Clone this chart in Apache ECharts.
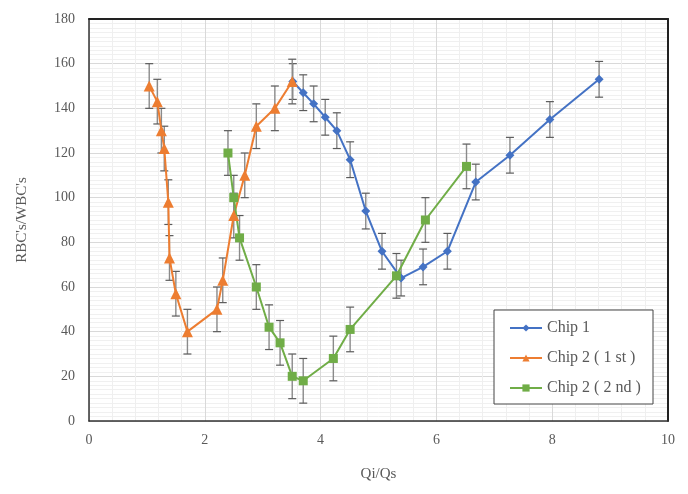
<!DOCTYPE html>
<html>
<head>
<meta charset="utf-8">
<script src="https://cdn.jsdelivr.net/npm/echarts@6/dist/echarts.min.js"></script>
<style>
html,body{margin:0;padding:0;background:#fff;}
#c{width:688px;height:494px;}
</style>
</head>
<body>
<div id="c"></div>
<script>
// Data
var chip1X = [3.52, 3.70, 3.88, 4.08, 4.28, 4.51, 4.78, 5.06, 5.39, 5.77, 6.19, 6.68, 7.27, 7.96, 8.81];
var chip1Y = [152, 147, 142, 136, 130, 117, 94, 76, 64, 69, 76, 107, 119, 135, 153];
var chip1Err = 8;

var chip2aX = [1.04, 1.18, 1.25, 1.30, 1.37, 1.39, 1.50, 1.70, 2.21, 2.31, 2.50, 2.69, 2.89, 3.21, 3.51];
var chip2aY = [150, 143, 130, 122, 98, 73, 57, 40, 50, 63, 92, 110, 132, 140, 152];
var chip2aErr = 10;

var chip2bX = [2.40, 2.50, 2.60, 2.89, 3.11, 3.30, 3.51, 3.70, 4.22, 4.51, 5.31, 5.81, 6.52];
var chip2bY = [120, 100, 82, 60, 42, 35, 20, 18, 28, 41, 65, 90, 114];
var chip2bErr = 10;

var seriesNames = ['Chip 1', 'Chip 2 ( 1 st )', 'Chip 2 ( 2 nd )'];
var xTicks = [0, 2, 4, 6, 8, 10];
var yTicks = [0, 20, 40, 60, 80, 100, 120, 140, 160, 180];

function pairs(xs, ys) { return xs.map(function (x, i) { return [x, ys[i]]; }); }
function errData(xs, ys, e) { return xs.map(function (x, i) { return [x, ys[i] - e, ys[i] + e]; }); }

var FONT = 'Liberation Serif';
var TXT = '#595959';

function errSeries(data) {
  return {
    type: 'custom',
    silent: true,
    z: 1,
    data: data,
    renderItem: function (params, api) {
      var x = api.value(0);
      var lo = api.coord([x, api.value(1)]);
      var hi = api.coord([x, api.value(2)]);
      var w = 4;
      var st = { stroke: '#5a5a5a', lineWidth: 1.2 };
      return {
        type: 'group',
        children: [
          { type: 'line', shape: { x1: lo[0], y1: lo[1], x2: hi[0], y2: hi[1] }, style: { stroke: '#8a8a8a', lineWidth: 1.4 } },
          { type: 'line', shape: { x1: lo[0] - w, y1: lo[1], x2: lo[0] + w, y2: lo[1] }, style: st },
          { type: 'line', shape: { x1: hi[0] - w, y1: hi[1], x2: hi[0] + w, y2: hi[1] }, style: st }
        ]
      };
    }
  };
}

var borderAxis = {
  axisLine: { show: true, onZero: false, lineStyle: { color: '#222', width: 2 } },
  axisTick: { show: false }, axisLabel: { show: false }, splitLine: { show: false }
};

var chart = echarts.init(document.getElementById('c'));
chart.setOption({
  animation: false,
  backgroundColor: '#fff',
  textStyle: { fontFamily: FONT },
  grid: { left: 89, right: 20, top: 19, bottom: 73 },
  xAxis: [{
    type: 'value', min: xTicks[0], max: xTicks[xTicks.length - 1], interval: 2,
    name: 'Qi/Qs', nameLocation: 'middle', nameGap: 46,
    nameTextStyle: { fontFamily: FONT, fontSize: 15, color: TXT },
    axisLine: { show: true, onZero: false, lineStyle: { color: '#333', width: 1.5 } },
    axisTick: { show: false },
    axisLabel: { fontFamily: FONT, fontSize: 14, color: TXT, margin: 12 },
    splitLine: { show: true, lineStyle: { color: '#d9d9d9', width: 1 } },
    minorTick: { show: false, splitNumber: 5 },
    minorSplitLine: { show: true, lineStyle: { color: '#efefef', width: 1 } }
  }, Object.assign({ type: 'value', position: 'top', min: 0, max: 10 }, borderAxis)],
  yAxis: [{
    type: 'value', min: yTicks[0], max: yTicks[yTicks.length - 1], interval: 20,
    name: "RBC's/WBC's", nameLocation: 'middle', nameGap: 59, nameRotate: 90,
    nameTextStyle: { fontFamily: FONT, fontSize: 15, color: TXT },
    axisLine: { show: true, onZero: false, lineStyle: { color: '#333', width: 1.5 } },
    axisTick: { show: false },
    axisLabel: { fontFamily: FONT, fontSize: 14, color: TXT, margin: 14 },
    splitLine: { show: true, lineStyle: { color: '#d9d9d9', width: 1 } },
    minorTick: { show: false, splitNumber: 10 },
    minorSplitLine: { show: true, lineStyle: { color: '#f0f0f0', width: 1 } }
  }, Object.assign({ type: 'value', position: 'right', min: 0, max: 180 }, borderAxis)],
  legend: {
    data: seriesNames,
    orient: 'vertical',
    left: 494, top: 310,
    padding: [9, 10, 7, 15],
    itemGap: 12,
    itemWidth: 32, itemHeight: 9,
    backgroundColor: '#fff',
    borderColor: '#444', borderWidth: 1,
    textStyle: { fontFamily: FONT, fontSize: 16, color: TXT, width: 96, lineHeight: 18 }
  },
  series: [
    errSeries(errData(chip1X, chip1Y, chip1Err)),
    errSeries(errData(chip2aX, chip2aY, chip2aErr)),
    errSeries(errData(chip2bX, chip2bY, chip2bErr)),
    {
      name: seriesNames[0], type: 'line', z: 3, data: pairs(chip1X, chip1Y),
      symbol: 'diamond', symbolSize: 9,
      lineStyle: { color: '#4472C4', width: 2 }, itemStyle: { color: '#4472C4' }
    },
    {
      name: seriesNames[1], type: 'line', z: 3, data: pairs(chip2aX, chip2aY),
      symbol: 'triangle', symbolSize: 11,
      lineStyle: { color: '#ED7D31', width: 2 }, itemStyle: { color: '#ED7D31' }
    },
    {
      name: seriesNames[2], type: 'line', z: 3, data: pairs(chip2bX, chip2bY),
      symbol: 'rect', symbolSize: 9,
      lineStyle: { color: '#70AD47', width: 2 }, itemStyle: { color: '#70AD47' }
    }
  ]
});
</script>
</body>
</html>
